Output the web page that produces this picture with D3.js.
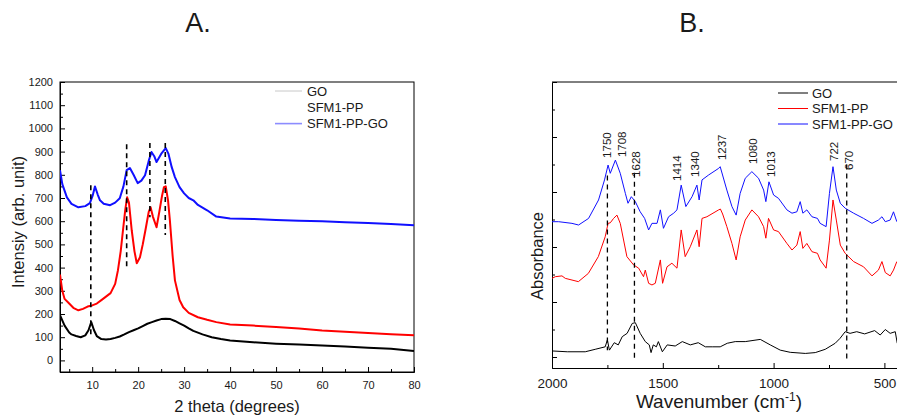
<!DOCTYPE html>
<html>
<head>
<meta charset="utf-8">
<script src="https://cdn.jsdelivr.net/npm/d3@7"></script>
<style>
  body { margin: 0; background: #fff; }
  text { font-family: "Liberation Sans", Arial, sans-serif; fill: #1a1a1a; }
</style>
</head>
<body>
<div id="chart"></div>
<script>
// ---- Panel A: XRD data (2 theta, intensity) ----
const goTheta = [3,4,5,5.5,6.5,7.5,8.5,9.2,9.8,10.4,11,12,13,14,15,16,17,18,19,20,21,22,23,24,25,26,27,28,29,30,31,32,34,36,38,40,45,50,55,60,65,70,75,80];
const goXrd   = [195,150,120,112,105,100,108,130,165,130,105,92,90,92,97,103,112,122,130,138,148,158,165,172,178,180,178,170,160,150,138,127,112,100,92,86,78,72,68,64,60,55,50,40];

const ppTheta = [3,3.5,4,5,6,7,8,9,10,11,12,13,14,15,15.6,16.2,16.7,17.2,17.6,18,18.6,19.2,19.7,20.4,21,21.7,22.3,22.7,23.2,24,24.6,25.2,25.6,26,26.5,26.9,27.5,28,29,29.8,31,33,35,37,40,45,50,55,60,65,70,75,80];
const ppXrd   = [370,300,265,245,225,216,222,232,237,245,260,275,290,330,388,470,561,650,703,680,561,470,419,445,500,574,640,660,620,574,640,710,747,750,690,604,450,345,260,229,205,186,175,165,155,150,144,138,129,124,118,113,108];

const ppgoTheta = [3,3.5,4.5,5.5,7,8.5,9.5,10.1,10.6,11.2,11.7,12.5,13.9,15,16,16.8,17.5,18.2,19,19.9,20.7,21.5,22.3,22.9,23.5,24,25,26,26.6,27.3,28,29,30,31,32,33,35,37,40,45,50,55,60,65,70,75,80];
const ppgoXrd   = [820,760,703,675,660,665,678,710,750,715,690,675,669,680,699,750,820,829,800,764,775,798,860,898,880,855,890,915,890,833,790,747,720,700,690,670,647,620,612,610,605,602,600,596,592,588,583];

// dashed guide lines in A: position, top, bottom
const xrdMarks  = [9.7, 17.5, 22.55, 25.9];
const xrdMarkTop = [755, 932, 937, 937];
const xrdMarkBot = [99, 401, 617, 540];

const legendNames = ["GO", "SFM1-PP", "SFM1-PP-GO"];

// ---- Panel B: FTIR data (wavenumber, absorbance offset) ----
const goWave = [2000,1931,1850,1805,1760,1750,1741,1719,1701,1683,1661,1638,1624,1602,1579,1561,1553,1543,1529,1520,1502,1480,1444,1412,1376,1340,1308,1277,1241,1209,1173,1128,1060,1015,970,925,857,812,767,722,700,677,655,625,589,544,519,496,474,451,442];
const goAbs  = [0.22,0.19,0.19,0.28,0.37,0.62,0.25,0.52,0.44,0.74,0.86,1.22,1.25,0.86,0.56,0.44,0.16,0.44,0.37,0.56,0.19,0.44,0.40,0.56,0.44,0.52,0.37,0.37,0.37,0.50,0.56,0.56,0.64,0.44,0.25,0.17,0.13,0.16,0.28,0.50,0.68,0.92,0.86,0.92,0.84,0.96,0.80,1.00,0.86,0.92,0.50];

const ppWave = [2000,1985,1955,1940,1881,1836,1791,1760,1747,1737,1722,1707,1692,1662,1632,1609,1587,1579,1564,1549,1534,1511,1501,1481,1459,1436,1417,1399,1376,1346,1336,1323,1301,1248,1240,1230,1211,1188,1169,1151,1128,1098,1068,1045,1035,1023,1000,978,940,917,895,880,868,850,827,802,790,763,748,732,717,699,677,639,594,556,527,511,496,474,459,444];
const ppAbs  = [2.86,2.92,2.95,2.86,2.74,3.04,3.65,4.37,4.86,4.88,5.04,5.16,4.86,3.65,3.35,3.23,2.92,3.16,2.68,2.62,2.68,3.53,2.68,3.28,3.41,3.23,4.62,3.65,4.01,4.62,4.01,5.04,5.10,5.35,5.38,5.20,4.74,4.13,3.53,4.37,4.98,5.35,5.10,4.74,4.32,5.04,4.62,4.56,4.13,3.89,4.07,4.56,3.95,4.13,3.83,3.77,3.53,3.23,4.25,5.71,4.98,4.07,3.77,3.47,3.28,2.95,3.16,3.47,3.07,2.95,3.16,3.47];

const ppgoWave = [2000,1970,1910,1880,1835,1790,1763,1747,1737,1714,1692,1669,1657,1642,1624,1602,1582,1564,1549,1526,1511,1497,1474,1451,1436,1417,1396,1368,1346,1336,1323,1293,1248,1241,1211,1188,1169,1151,1128,1098,1068,1045,1035,1021,1000,978,940,917,895,880,868,850,827,802,790,763,748,732,717,699,677,639,594,556,527,511,496,474,459,444];
const ppgoAbs  = [4.92,4.92,4.86,4.80,5.04,5.71,6.44,6.98,6.68,7.16,6.68,5.95,5.59,5.83,5.65,5.28,5.04,4.62,4.86,4.86,5.35,4.68,5.10,5.23,5.35,6.25,5.47,5.83,6.25,5.71,6.44,6.62,6.86,6.92,6.07,5.47,5.16,5.95,6.50,6.74,6.50,6.07,5.65,6.37,5.89,5.77,5.35,5.23,5.28,5.65,5.23,5.35,5.10,5.04,4.86,4.74,5.95,6.92,6.07,5.59,5.41,5.23,5.04,4.86,4.98,5.10,4.92,4.98,5.28,4.92];

// peak labels in B
const peakWave  = [1750,1708,1628,1414,1340,1237,1080,1013,722,670];
const peakBase  = [7.24,7.27,6.55,6.40,6.55,7.16,7.02,6.55,7.13,6.80];
const peakNudge = [-0.4,5.3,1.8,-4.6,-3,1,-3,0,-1,2.5];

// dashed guide lines in B
const ftirMarks   = [1750, 1628, 670];
const ftirMarkTop = [6.6, 6.7, 7.0];
const ftirMarkBot = [0.25, -0.1, -0.05];

const W = 897, H = 417;
const fmt = d3.format("d");
const svg = d3.select("#chart").append("svg")
    .attr("width", W).attr("height", H);

// ================= Panel A =================
const xA = d3.scaleLinear().domain([3, 80]).range([60, 414]);
const yA = d3.scaleLinear().domain([-50, 1200]).range([372, 82]);

svg.append("clipPath").attr("id", "clipA")
  .append("rect").attr("x", 60).attr("y", 82).attr("width", 354).attr("height", 290);

const gA = svg.append("g");

// minor ticks
gA.append("g").attr("transform", "translate(0,372)")
  .call(d3.axisBottom(xA).tickValues(d3.range(5, 80, 10)).tickSize(-3).tickFormat(""))
  .call(g => g.select(".domain").remove());
gA.append("g").attr("transform", "translate(60,0)")
  .call(d3.axisLeft(yA).tickValues(d3.range(-50, 1200, 100)).tickSize(-3).tickFormat(""))
  .call(g => g.select(".domain").remove());

// major ticks
gA.append("g").attr("transform", "translate(0,372)")
  .call(d3.axisBottom(xA).tickValues(d3.range(10, 81, 10)).tickSize(-5).tickPadding(9).tickFormat(fmt))
  .call(g => g.selectAll("text").attr("font-size", 11).attr("font-family", "Liberation Sans, Arial, sans-serif"));
gA.append("g").attr("transform", "translate(60,0)")
  .call(d3.axisLeft(yA).tickValues(d3.range(0, 1201, 100)).tickSize(-5).tickPadding(7).tickFormat(fmt))
  .call(g => g.selectAll("text").attr("font-size", 11).attr("font-family", "Liberation Sans, Arial, sans-serif"));

gA.append("rect").attr("x", 60).attr("y", 82).attr("width", 354).attr("height", 290)
  .attr("fill", "none").attr("stroke", "#000").attr("stroke-width", 1);

const lineA = d3.line().x(d => xA(d[0])).y(d => yA(d[1]));
const seriesA = [
  { t: goTheta, v: goXrd, c: "#000000" },
  { t: ppTheta, v: ppXrd, c: "#ff0000" },
  { t: ppgoTheta, v: ppgoXrd, c: "#1010ff" }
];
const plotA = gA.append("g").attr("clip-path", "url(#clipA)");
seriesA.forEach(s => {
  plotA.append("path")
    .datum(s.t.map((t, i) => [t, s.v[i]]))
    .attr("fill", "none").attr("stroke", s.c).attr("stroke-width", 2)
    .attr("stroke-linejoin", "round")
    .attr("d", lineA);
});

// dashed guides
xrdMarks.forEach((m, i) => {
  gA.append("line")
    .attr("x1", xA(m)).attr("x2", xA(m))
    .attr("y1", yA(xrdMarkTop[i])).attr("y2", yA(xrdMarkBot[i]))
    .attr("stroke", "#000").attr("stroke-width", 1.6).attr("stroke-dasharray", "5,4");
});

// legend A
const legA = gA.append("g");
const legAColors = ["#c8c8c8", "none", "#8c8cff"];
legendNames.forEach((n, i) => {
  const y = 91 + i * 16.3;
  legA.append("line").attr("x1", 275).attr("x2", 302).attr("y1", y).attr("y2", y)
    .attr("stroke", legAColors[i]).attr("stroke-width", i === 2 ? 1.6 : 1);
  legA.append("text").attr("x", 307).attr("y", y).attr("dy", "0.36em")
    .attr("font-size", 13).text(n);
});

// axis titles A
gA.append("text").attr("x", 237).attr("y", 412).attr("text-anchor", "middle")
  .attr("font-size", 16.5).text("2 theta (degrees)");
gA.append("text").attr("transform", "translate(24,222) rotate(-90)").attr("text-anchor", "middle")
  .attr("font-size", 16.5).text("Intensiy (arb. unit)");

svg.append("text").attr("x", 198).attr("y", 32).attr("text-anchor", "middle")
  .attr("font-size", 27).text("A.");

// ================= Panel B =================
const xB = d3.scaleLinear().domain([2000, 440]).range([552, 897.7]);
const yB = d3.scaleLinear().domain([-0.4, 10]).range([368, 82]);

svg.append("clipPath").attr("id", "clipB")
  .append("rect").attr("x", 552).attr("y", 82).attr("width", 350).attr("height", 286);

const gB = svg.append("g");

gB.append("g").attr("transform", "translate(0,368)")
  .call(d3.axisBottom(xB).tickValues([1750, 1250, 750]).tickSize(-3).tickFormat(""))
  .call(g => g.select(".domain").remove());
gB.append("g").attr("transform", "translate(0,368)")
  .call(d3.axisBottom(xB).tickValues([2000, 1500, 1000, 500]).tickSize(-5).tickPadding(10).tickFormat(fmt))
  .call(g => g.selectAll("text").attr("font-size", 13.5).attr("font-family", "Liberation Sans, Arial, sans-serif"));
gB.append("g").attr("transform", "translate(552,0)")
  .call(d3.axisLeft(yB).tickValues(d3.range(1, 10, 2)).tickSize(-3).tickFormat(""))
  .call(g => g.select(".domain").remove());
gB.append("g").attr("transform", "translate(552,0)")
  .call(d3.axisLeft(yB).tickValues(d3.range(0, 10, 2)).tickSize(-5).tickFormat(""));

gB.append("line").attr("x1", 552).attr("x2", 897).attr("y1", 82).attr("y2", 82)
  .attr("stroke", "#000");

const lineB = d3.line().x(d => xB(d[0])).y(d => yB(d[1]));
const seriesB = [
  { w: goWave, v: goAbs, c: "#000000" },
  { w: ppWave, v: ppAbs, c: "#ff0000" },
  { w: ppgoWave, v: ppgoAbs, c: "#1010ff" }
];
const plotB = gB.append("g").attr("clip-path", "url(#clipB)");
seriesB.forEach(s => {
  plotB.append("path")
    .datum(s.w.map((w, i) => [w, s.v[i]]))
    .attr("fill", "none").attr("stroke", s.c).attr("stroke-width", 1)
    .attr("stroke-linejoin", "round")
    .attr("d", lineB);
});

ftirMarks.forEach((m, i) => {
  gB.append("line")
    .attr("x1", xB(m)).attr("x2", xB(m))
    .attr("y1", yB(ftirMarkTop[i])).attr("y2", yB(ftirMarkBot[i]))
    .attr("stroke", "#000").attr("stroke-width", 1.3).attr("stroke-dasharray", "5,4");
});

peakWave.forEach((p, i) => {
  gB.append("text")
    .attr("transform", `translate(${xB(p) + peakNudge[i]},${yB(peakBase[i])}) rotate(-90)`)
    .attr("dy", "0.35em").attr("font-size", 11.5).text(p);
});

// legend B
const legBColors = ["#000000", "#ff0000", "#1010ff"];
legendNames.forEach((n, i) => {
  const y = 93 + i * 15.5;
  gB.append("line").attr("x1", 778).attr("x2", 808).attr("y1", y).attr("y2", y)
    .attr("stroke", legBColors[i]).attr("stroke-width", 1);
  gB.append("text").attr("x", 812).attr("y", y).attr("dy", "0.36em")
    .attr("font-size", 13).text(n);
});

// axis titles B
const xt = gB.append("text").attr("x", 719).attr("y", 408).attr("text-anchor", "middle")
  .attr("font-size", 19);
xt.append("tspan").text("Wavenumber (cm");
xt.append("tspan").attr("dy", -7).attr("font-size", 12).text("-1");
xt.append("tspan").attr("dy", 7).text(")");
gB.append("text").attr("transform", "translate(543,256) rotate(-90)").attr("text-anchor", "middle")
  .attr("font-size", 16.5).text("Absorbance");

svg.append("text").attr("x", 692).attr("y", 32).attr("text-anchor", "middle")
  .attr("font-size", 27).text("B.");
</script>
</body>
</html>
